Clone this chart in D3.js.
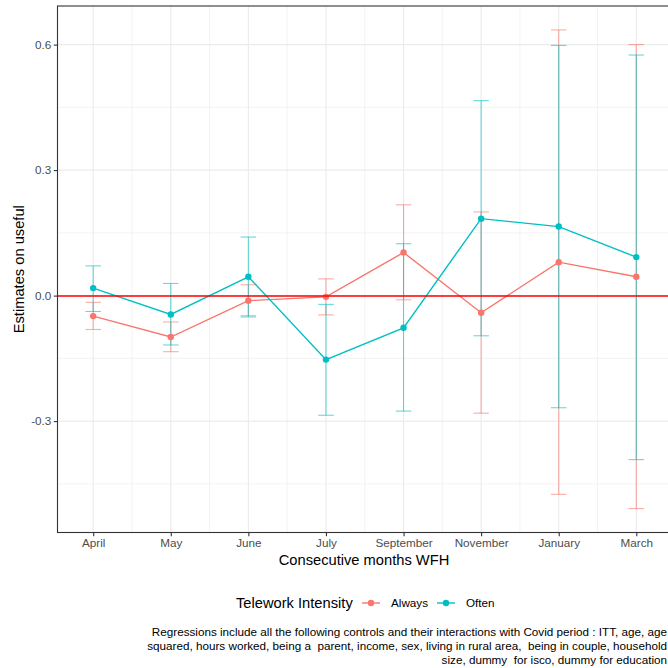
<!DOCTYPE html>
<html>
<head>
<meta charset="utf-8">
<script src="https://cdn.jsdelivr.net/npm/d3@7/dist/d3.min.js"></script>
<style>
html, body { margin: 0; padding: 0; background: #fff; }
svg { display: block; font-family: "Liberation Sans", Arial, sans-serif; }
</style>
</head>
<body>
<script>
const months = ["April","May","June","July","September","November","January","March"];
const alwaysEst = [-0.049, -0.099, -0.012, -0.003, 0.103, -0.041, 0.080, 0.045];
const alwaysLo  = [-0.081, -0.134, -0.048, -0.046, -0.010, -0.281, -0.475, -0.509];
const alwaysHi  = [-0.016, -0.063, 0.026, 0.040, 0.217, 0.200, 0.635, 0.600];
const oftenEst  = [0.018, -0.045, 0.045, -0.153, -0.077, 0.184, 0.165, 0.092];
const oftenLo   = [-0.038, -0.118, -0.051, -0.286, -0.276, -0.096, -0.268, -0.392];
const oftenHi   = [0.071, 0.029, 0.140, -0.021, 0.124, 0.466, 0.598, 0.575];
const seriesNames = ["Always", "Often"];
const seriesColors = ["#F8766D", "#00BFC4"];
const yTicks = [-0.3, 0.0, 0.3, 0.6];
const yMinor = [-0.45, -0.15, 0.15, 0.45];
const captionLines = [
  "Regressions include all the following controls and their interactions with Covid period : ITT, age, age",
  "squared, hours worked, being a  parent, income, sex, living in rural area,  being in couple, household",
  "size, dummy  for isco, dummy for education"
];

const W = 668, H = 668;
const svg = d3.select("body").append("svg").attr("width", W).attr("height", H);

const series = [
  { name: seriesNames[0], color: seriesColors[0], est: alwaysEst, lo: alwaysLo, hi: alwaysHi },
  { name: seriesNames[1], color: seriesColors[1], est: oftenEst, lo: oftenLo, hi: oftenHi }
];

const capHalf = 0.1;
const xIdx = months.map((m, i) => i + 1);
const xmin = 1 - capHalf, xmax = months.length + capHalf;
const xPad = (xmax - xmin) * 0.05;
const panel = { left: 57.5, right: 672, top: 6, bottom: 532.5 };
const x = d3.scaleLinear().domain([xmin - xPad, xmax + xPad]).range([panel.left, panel.right]);

const allY = [].concat(alwaysLo, alwaysHi, oftenLo, oftenHi, alwaysEst, oftenEst, [0]);
const ymn = d3.min(allY), ymx = d3.max(allY);
const yPad = (ymx - ymn) * 0.05;
const y = d3.scaleLinear().domain([ymn - yPad, ymx + yPad]).range([panel.bottom, panel.top]);

// gridlines
const grid = svg.append("g");
yMinor.forEach(v => grid.append("line").attr("x1", panel.left).attr("x2", panel.right)
  .attr("y1", y(v)).attr("y2", y(v)).attr("stroke", "#EBEBEB").attr("stroke-width", 0.6));
d3.range(1.5, months.length, 1).forEach(v => grid.append("line").attr("y1", panel.top).attr("y2", panel.bottom)
  .attr("x1", x(v)).attr("x2", x(v)).attr("stroke", "#EBEBEB").attr("stroke-width", 0.6));
yTicks.forEach(v => grid.append("line").attr("x1", panel.left).attr("x2", panel.right)
  .attr("y1", y(v)).attr("y2", y(v)).attr("stroke", "#EBEBEB").attr("stroke-width", 1.1));
xIdx.forEach(v => grid.append("line").attr("y1", panel.top).attr("y2", panel.bottom)
  .attr("x1", x(v)).attr("x2", x(v)).attr("stroke", "#EBEBEB").attr("stroke-width", 1.1));

// error bars
series.forEach(s => {
  const g = svg.append("g").attr("stroke", s.color).attr("stroke-opacity", 0.6).attr("stroke-width", 1.1).attr("fill", "none");
  xIdx.forEach((xi, i) => {
    g.append("line").attr("x1", x(xi)).attr("x2", x(xi)).attr("y1", y(s.lo[i])).attr("y2", y(s.hi[i]));
    g.append("line").attr("x1", x(xi - capHalf)).attr("x2", x(xi + capHalf)).attr("y1", y(s.lo[i])).attr("y2", y(s.lo[i]));
    g.append("line").attr("x1", x(xi - capHalf)).attr("x2", x(xi + capHalf)).attr("y1", y(s.hi[i])).attr("y2", y(s.hi[i]));
  });
});

// lines
const lineGen = d3.line().x(d => x(d[0])).y(d => y(d[1]));
series.forEach(s => {
  svg.append("path").datum(xIdx.map((xi, i) => [xi, s.est[i]]))
    .attr("d", lineGen).attr("fill", "none").attr("stroke", s.color).attr("stroke-width", 1.4);
});
series.forEach(s => {
  svg.append("g").selectAll("circle").data(xIdx.map((xi, i) => [xi, s.est[i]])).join("circle")
    .attr("cx", d => x(d[0])).attr("cy", d => y(d[1])).attr("r", 3.2).attr("fill", s.color);
});

// zero line
const y0 = Math.round(y(0));
svg.append("line").attr("x1", panel.left).attr("x2", panel.right).attr("y1", y0).attr("y2", y0)
  .attr("stroke", "#FF0000").attr("stroke-width", 1.6);

// panel border
svg.append("rect").attr("x", panel.left).attr("y", panel.top)
  .attr("width", panel.right - panel.left).attr("height", panel.bottom - panel.top)
  .attr("fill", "none").attr("stroke", "#333333").attr("stroke-width", 1.1);

// axes
const yAxis = d3.axisLeft(y).tickValues(yTicks).tickFormat(d3.format(".1f")).tickSize(3.7).tickPadding(2.5);
const gy = svg.append("g").attr("transform", `translate(${panel.left},0)`).call(yAxis);
gy.select(".domain").remove();
gy.selectAll(".tick line").attr("stroke", "#333333").attr("stroke-width", 1.1);
gy.selectAll(".tick text").attr("fill", "#4D4D4D").attr("font-size", "11.7px")
  .attr("font-family", "Liberation Sans, Arial, sans-serif").text(d => d3.format(".1f")(d).replace("−", "-"));

const xAxis = d3.axisBottom(x).tickValues(xIdx).tickFormat((d, i) => months[i]).tickSize(3.7).tickPadding(2.5);
const gx = svg.append("g").attr("transform", `translate(0,${panel.bottom})`).call(xAxis);
gx.select(".domain").remove();
gx.selectAll(".tick line").attr("stroke", "#333333").attr("stroke-width", 1.1);
gx.selectAll(".tick text").attr("fill", "#4D4D4D").attr("font-size", "11.7px")
  .attr("font-family", "Liberation Sans, Arial, sans-serif");

// axis titles
svg.append("text").attr("x", 364).attr("y", 565).attr("text-anchor", "middle")
  .attr("font-size", "14.7px").attr("fill", "#000").text("Consecutive months WFH");
svg.append("text").attr("transform", `translate(24,${(panel.top + panel.bottom) / 2}) rotate(-90)`)
  .attr("text-anchor", "middle").attr("font-size", "14.7px").attr("fill", "#000").text("Estimates on useful");

// legend
const lg = svg.append("g");
const ly = 603;
lg.append("text").attr("x", 236).attr("y", ly + 5).attr("font-size", "14.7px").attr("fill", "#000").text("Telework Intensity");
const keyX = [362, 437];
const labX = [391, 466];
series.forEach((s, i) => {
  lg.append("line").attr("x1", keyX[i]).attr("x2", keyX[i] + 18).attr("y1", ly).attr("y2", ly)
    .attr("stroke", s.color).attr("stroke-width", 1.4);
  lg.append("circle").attr("cx", keyX[i] + 9).attr("cy", ly).attr("r", 3.2).attr("fill", s.color);
  lg.append("text").attr("x", labX[i]).attr("y", ly + 4).attr("font-size", "11.7px").attr("fill", "#000").text(s.name);
});

// caption
captionLines.forEach((t, i) => {
  svg.append("text").attr("x", 667).attr("y", 636 + i * 14).attr("text-anchor", "end")
    .attr("font-size", "11.7px").attr("fill", "#000").attr("xml:space", "preserve")
    .style("white-space", "pre").text(t);
});
</script>
</body>
</html>
